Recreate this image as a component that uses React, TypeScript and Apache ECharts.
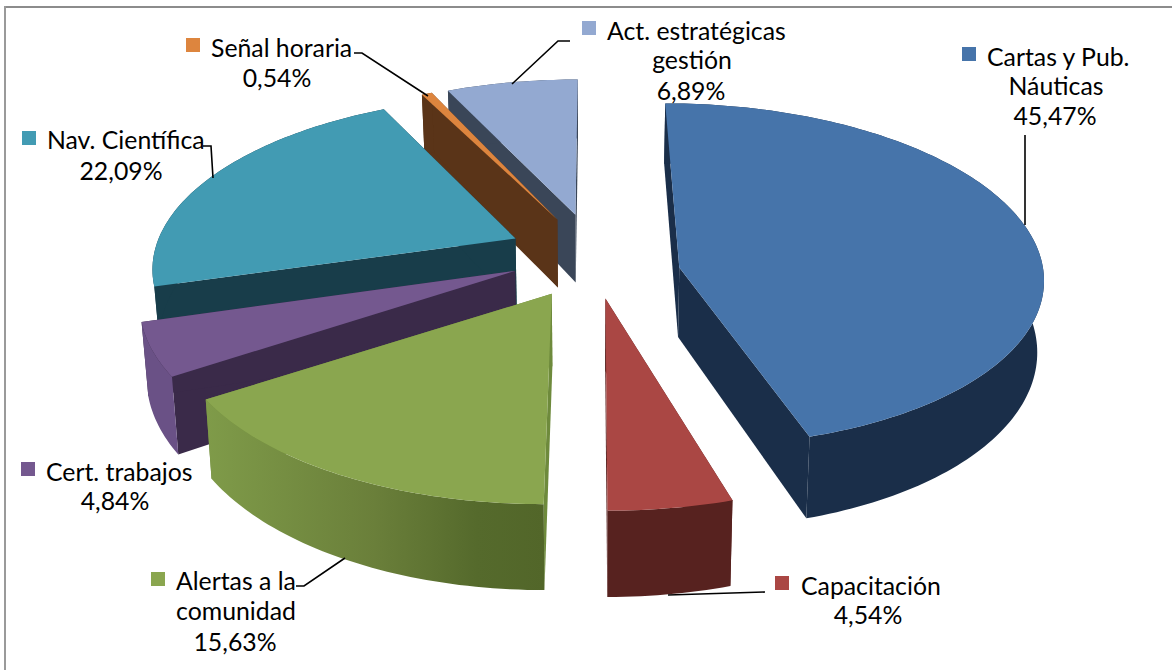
import React, { useEffect, useRef } from "react";
import * as echarts from "echarts";

// ---- data ----
const sliceNames = [
  "Cartas y Pub. Náuticas",
  "Capacitación",
  "Alertas a la comunidad",
  "Cert. trabajos",
  "Nav. Científica",
  "Señal horaria",
  "Act. estratégicas gestión",
];
const sliceValues = [45.47, 4.54, 15.63, 4.84, 22.09, 0.54, 6.89];

// ---- styles ----
const topColors = ["#4674AA", "#AA4744", "#8AA64F", "#74588F", "#429BB3", "#DD853E", "#93A9D1"];
const radialColors = ["#1A2E49", "#5A2320", "#6E8A3C", "#3A2A49", "#183D4A", "#5A3418", "#3A4658"];
const outerColors: any[] = [
  "#1A2E49",
  "#57221F",
  { type: "linear", x: 0, y: 0, x2: 1, y2: 0, colorStops: [
    { offset: 0, color: "#7F9B49" }, { offset: 0.5, color: "#6A7F3A" }, { offset: 0.8, color: "#556A2C" }, { offset: 1, color: "#526629" },
  ] },
  "#6A5186",
  "#183D4A",
  "#5A3418",
  "#3A4658",
];
// painter's order, farthest first
const drawOrder = [6, 5, 4, 3, 0, 1, 2];

// ---- projection of the exploded pie ----
const CX = 593, CY = 254, SX = 363, SY = 169, PERSP = 0.154, EXPLODE = 0.233, DEPTH = 70, DEPTH_SHRINK = 0.985;
// small screen-space corrections of each slice's inner corner
const apexNudge = [[3, 19], [0, 4], [0, 4], [0, 0], [-1, 0], [0, 0], [0, -2]];

function project(X: number, Y: number, low: boolean): number[] {
  const w = 1 - PERSP * Y;
  const sx = CX + (SX * X) / w;
  const sy = CY + (SY * Y) / w;
  return low ? [CX + (sx - CX) * DEPTH_SHRINK, sy + DEPTH / w] : [sx, sy];
}

const total = sliceValues.reduce((a, b) => a + b, 0);
function sliceAngles(i: number) {
  let acc = 0;
  for (let k = 0; k < i; k++) acc += sliceValues[k];
  const a0 = (acc / total) * Math.PI * 2;
  const a1 = ((acc + sliceValues[i]) / total) * Math.PI * 2;
  return [a0, a1];
}

function renderSlice(_params: any, api: any) {
  const i = api.value(0) as number;
  const [a0, a1] = sliceAngles(i);
  const mid = (a0 + a1) / 2;
  const ax = EXPLODE * Math.sin(mid);
  const ay = -EXPLODE * Math.cos(mid);
  const steps = Math.max(4, Math.ceil((a1 - a0) / 0.02));
  const arc = (low: boolean) => {
    const pts: number[][] = [];
    for (let s = 0; s <= steps; s++) {
      const t = a0 + ((a1 - a0) * s) / steps;
      pts.push(project(ax + Math.sin(t), ay - Math.cos(t), low));
    }
    return pts;
  };
  const topArc = arc(false);
  const lowArc = arc(true);
  const n = apexNudge[i];
  const at = project(ax, ay, false);
  const al = project(ax, ay, true);
  const apexTop = [at[0] + n[0], at[1] + n[1]];
  const apexLow = [al[0] + n[0], al[1] + n[1]];
  const poly = (points: number[][], fill: any) => ({
    type: "polygon",
    shape: { points },
    style: { fill, stroke: null },
  });
  return {
    type: "group",
    children: [
      poly([apexTop, topArc[0], lowArc[0], apexLow], radialColors[i]),
      poly([apexTop, topArc[steps], lowArc[steps], apexLow], radialColors[i]),
      poly([...topArc, ...lowArc.slice().reverse()], outerColors[i]),
      poly([apexTop, ...topArc], topColors[i]),
    ],
  };
}

// ---- label layout ----
const pct = (i: number) => sliceValues[i].toFixed(2).replace(".", ",") + "%";
const FONT = "Lato";
const FS = 24.8;

type Lbl = { slice: number; key: number[]; lines: [string, number, number, string][] };
const labels: Lbl[] = [
  { slice: 0, key: [962, 47], lines: [["Cartas y Pub.", 987, 56, "left"], ["Náuticas", 1056, 85, "center"], [pct(0), 1055, 115, "center"]] },
  { slice: 1, key: [775, 576], lines: [["Capacitación", 801, 585, "left"], [pct(1), 868, 614, "center"]] },
  { slice: 2, key: [151, 572], lines: [["Alertas a la", 176, 580, "left"], ["comunidad", 236, 610, "center"], [pct(2), 235, 641, "center"]] },
  { slice: 3, key: [21, 462], lines: [["Cert. trabajos", 46, 471, "left"], [pct(3), 115, 500, "center"]] },
  { slice: 4, key: [22, 131], lines: [["Nav. Científica", 47, 139, "left"], [pct(4), 121, 170, "center"]] },
  { slice: 5, key: [186, 38], lines: [["Señal horaria", 211, 47, "left"], [pct(5), 277, 77, "center"]] },
  { slice: 6, key: [582, 21], lines: [["Act. estratégicas", 607, 30, "left"], ["gestión", 692, 59, "center"], [pct(6), 691, 90, "center"]] },
];
const leaders: number[][][] = [
  [[1025, 135], [1025, 225]],
  [[668, 595], [765, 592]],
  [[296, 586], [304, 586], [345, 558]],
  [[203, 146], [211, 146], [213, 178]],
  [[354, 53], [362, 53], [428, 96]],
  [[570, 41], [558, 41], [512, 84]],
];

function buildGraphics() {
  const els: any[] = [];
  // chart frame
  els.push({ type: "line", shape: { x1: 5, y1: 7, x2: 1172, y2: 7 }, style: { stroke: "#8C8C8C", lineWidth: 2 } });
  els.push({ type: "line", shape: { x1: 5, y1: 6, x2: 5, y2: 670 }, style: { stroke: "#9A9A9A", lineWidth: 2 } });
  leaders.forEach((pts) => {
    els.push({ type: "polyline", shape: { points: pts }, style: { stroke: "#000", lineWidth: 1.6, fill: null }, z: 5 });
  });
  labels.forEach((l) => {
    els.push({ type: "rect", shape: { x: l.key[0], y: l.key[1], width: 14, height: 14 }, style: { fill: topColors[l.slice] }, z: 6 });
    l.lines.forEach(([text, x, y, align]) => {
      els.push({
        type: "text",
        x,
        y,
        z: 6,
        style: { text, fill: "#000", font: `${FS}px ${FONT}`, textAlign: align, textVerticalAlign: "middle" },
      });
    });
  });
  return els;
}

export default function App() {
  const ref = useRef<HTMLDivElement>(null);
  useEffect(() => {
    const chart = echarts.init(ref.current!, undefined, { renderer: "svg" });
    chart.setOption({
      animation: false,
      backgroundColor: "#FFFFFF",
      series: [
        {
          type: "custom",
          coordinateSystem: "none",
          silent: true,
          clip: false,
          renderItem: renderSlice,
          data: drawOrder.map((i) => ({ name: sliceNames[i], value: [i, sliceValues[i]] })),
        },
      ],
      graphic: { elements: buildGraphics() },
    });
    return () => chart.dispose();
  }, []);
  return <div ref={ref} style={{ position: "absolute", left: 0, top: 0, width: 1172, height: 670 }} />;
}
